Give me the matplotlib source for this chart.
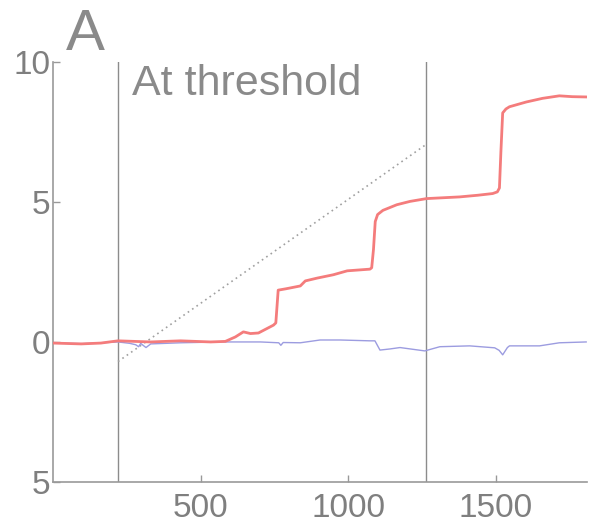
import matplotlib
matplotlib.use("Agg")
import matplotlib.pyplot as plt
from matplotlib.ticker import FixedLocator, FixedFormatter

plt.rcParams["font.family"] = ["Liberation Sans", "DejaVu Sans"]

# sampled traces (time, response)
red_x = [0, 95, 162, 220, 331, 432, 534, 584, 618, 645, 669, 696, 747, 755, 763,
         790, 838, 855, 895, 950, 997, 1074, 1080, 1086, 1092, 1100, 1118, 1165,
         1210, 1266, 1378, 1440, 1490, 1506, 1513, 1518, 1524, 1535, 1547, 1604,
         1659, 1716, 1760, 1807]
red_y = [-0.04, -0.07, -0.04, 0.04, 0.0, 0.04, 0.0, 0.02, 0.18, 0.36, 0.3, 0.32,
         0.6, 0.68, 1.85, 1.9, 2.0, 2.18, 2.28, 2.4, 2.54, 2.6, 2.65, 3.3, 4.3,
         4.55, 4.7, 4.9, 5.02, 5.12, 5.18, 5.24, 5.3, 5.36, 5.5, 6.8, 8.18, 8.32,
         8.4, 8.57, 8.7, 8.79, 8.76, 8.75]

blue_x = [0, 100, 220, 260, 280, 290, 297, 305, 315, 321, 331, 432, 568, 703, 765,
          772, 780, 838, 905, 973, 1074, 1091, 1108, 1142, 1176, 1260, 1311, 1412,
          1497, 1512, 1524, 1540, 1547, 1649, 1716, 1807]
blue_y = [-0.04, -0.06, 0.0, -0.05, -0.1, -0.17, -0.05, -0.12, -0.2, -0.15, -0.07,
          -0.03, 0.0, 0.0, -0.03, -0.12, -0.02, -0.03, 0.07, 0.07, 0.04, 0.04,
          -0.29, -0.25, -0.2, -0.32, -0.17, -0.14, -0.21, -0.3, -0.46, -0.2,
          -0.14, -0.14, -0.03, 0.0]

# threshold window and ramp
marks = [220, 1264]
ramp_x = [220, 1264]
ramp_y = [-0.7, 7.05]

xticks = [500, 1000, 1500]
yticks = [-5, 0, 5, 10]
ytick_labels = ["5", "0", "5", "10"]

GRAY = "#8a8a8a"

fig = plt.figure(figsize=(5.9, 5.25), dpi=100)
ax = fig.add_axes([0.09, 0.082, 0.905, 0.80])

for m in marks:
    ax.axvline(m, color="#8c8c8c", lw=1.0, zorder=1)
ax.plot(ramp_x, ramp_y, color="#a0a0a0", lw=1.2, ls=(0, (1, 2.2)), zorder=2)
ax.plot(blue_x, blue_y, color="#9c9ce0", lw=1.0, zorder=3)
ax.plot(red_x, red_y, color="#f47c7c", lw=2.0, zorder=4)

ax.set_xlim(0, 1810)
ax.set_ylim(-5, 10)
ax.xaxis.set_major_locator(FixedLocator(xticks))
ax.yaxis.set_major_locator(FixedLocator(yticks))
ax.yaxis.set_major_formatter(FixedFormatter(ytick_labels))

for side in ("top", "right"):
    ax.spines[side].set_visible(False)
for side in ("left", "bottom"):
    ax.spines[side].set_color("#999999")
    ax.spines[side].set_linewidth(1.2)
ax.tick_params(direction="in", length=5, width=1, colors="#999999",
               labelcolor="#7f7f7f", labelsize=24, pad=2)
ax.tick_params(axis="x", pad=8)

ax.text(0.147, 0.921, "At threshold", transform=ax.transAxes, fontsize=31,
        color=GRAY, va="baseline", ha="left")
fig.text(0.112, 0.905, "A", fontsize=42, color=GRAY, ha="left", va="baseline")

fig.savefig("out.png", dpi=100)
